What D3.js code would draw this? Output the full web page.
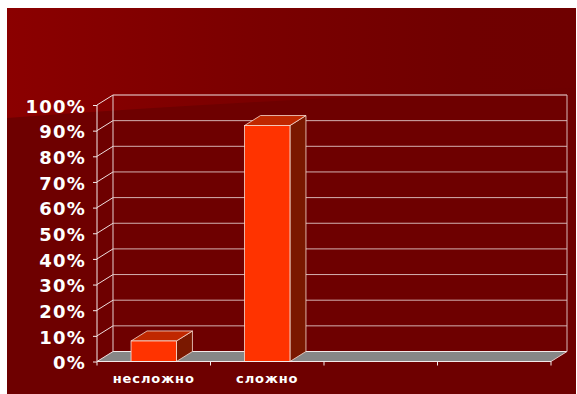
<!DOCTYPE html>
<html>
<head>
<meta charset="utf-8">
<script src="https://cdn.jsdelivr.net/npm/d3@7"></script>
<style>
  html, body { margin: 0; padding: 0; background: #ffffff; }
  svg { display: block; }
</style>
</head>
<body>
<svg id="chart" width="577" height="394"></svg>
<script>
// Survey answers (share of respondents)
const categories = ["несложно", "сложно", "", ""];
const values = [0.08, 0.92, null, null];
const yTicks = [0, 0.1, 0.2, 0.3, 0.4, 0.5, 0.6, 0.7, 0.8, 0.9, 1.0];

const svg = d3.select("#chart");
const W = 577, H = 394;

// 3D depth offset of the plot box
const dx = 16, dy = -10;

const x = d3.scaleBand()
  .domain(d3.range(categories.length))
  .range([97, 551])
  .paddingInner(0.6)
  .paddingOuter(0.3);

const y = d3.scaleLinear().domain([0, 1]).range([361.5, 105]);

// ---- background ----
const defs = svg.append("defs");
const grad = defs.append("linearGradient").attr("id", "bg")
  .attr("x1", "0").attr("y1", "0").attr("x2", "1").attr("y2", "0");
grad.append("stop").attr("offset", "0").attr("stop-color", "#8b0000");
grad.append("stop").attr("offset", "0.45").attr("stop-color", "#7a0000");
grad.append("stop").attr("offset", "0.8").attr("stop-color", "#700000");
grad.append("stop").attr("offset", "1").attr("stop-color", "#6f0000");

svg.append("rect").attr("x", 7).attr("y", 8).attr("width", W - 8).attr("height", H - 8)
  .attr("fill", "url(#bg)");
svg.append("path")
  .attr("d", "M7,118 Q280,98 576,88 L576,394 L7,394 Z")
  .attr("fill", "#6e0000");

const gridInner = "#d4b0b0";
const gridTop = "#f2e2e2";
const x0 = x.range()[0], x1 = x.range()[1];

// ---- floor ----
svg.append("path")
  .attr("d", `M${x0},${y(0)} L${x1},${y(0)} L${x1 + dx},${y(0) + dy} L${x0 + dx},${y(0) + dy} Z`)
  .attr("fill", "#878787");

// ---- back wall gridlines and side wall diagonals ----
const grid = svg.append("g");
yTicks.forEach(t => {
  const yb = y(t) + dy;
  grid.append("line")
    .attr("x1", x0 + dx).attr("x2", x1 + dx)
    .attr("y1", yb).attr("y2", yb)
    .attr("stroke", t === 1 ? gridTop : (t === 0 ? "#f4eaea" : gridInner))
    .attr("stroke-width", 1);
  grid.append("line")
    .attr("x1", x0).attr("y1", y(t))
    .attr("x2", x0 + dx).attr("y2", yb)
    .attr("stroke", "#eedede").attr("stroke-width", 1);
});
// back wall verticals
grid.append("line").attr("x1", x0 + dx).attr("x2", x0 + dx)
  .attr("y1", y(1) + dy).attr("y2", y(0) + dy).attr("stroke", "#e6d0d0");
grid.append("line").attr("x1", x1 + dx).attr("x2", x1 + dx)
  .attr("y1", y(1) + dy).attr("y2", y(0) + dy).attr("stroke", "#d8b8b8");
// floor right edge
grid.append("line").attr("x1", x1).attr("y1", y(0))
  .attr("x2", x1 + dx).attr("y2", y(0) + dy).attr("stroke", "#e8c8c8");

// ---- bars ----
const edge = "#f6dcd2";
const bars = svg.append("g");
categories.forEach((c, i) => {
  const v = values[i];
  if (v == null) return;
  const bx0 = x(i), bx1 = x(i) + x.bandwidth();
  const yt = y(v), yb = y(0);
  // side face
  bars.append("path")
    .attr("d", `M${bx1},${yt} L${bx1 + dx},${yt + dy} L${bx1 + dx},${yb + dy} L${bx1},${yb} Z`)
    .attr("fill", "#7a1800").attr("stroke", edge).attr("stroke-width", 0.8)
    .attr("stroke-linejoin", "round");
  // top face
  bars.append("path")
    .attr("d", `M${bx0},${yt} L${bx1},${yt} L${bx1 + dx},${yt + dy} L${bx0 + dx},${yt + dy} Z`)
    .attr("fill", "#c02800").attr("stroke", edge).attr("stroke-width", 0.8)
    .attr("stroke-linejoin", "round");
  // front face
  bars.append("rect")
    .attr("x", bx0).attr("y", yt)
    .attr("width", bx1 - bx0).attr("height", yb - yt)
    .attr("fill", "#ff3300").attr("stroke", edge).attr("stroke-width", 0.8);
});

// ---- front floor edge and category ticks ----
svg.append("line").attr("x1", x0).attr("x2", x1)
  .attr("y1", y(0)).attr("y2", y(0)).attr("stroke", "#f4eaea");
d3.range(categories.length + 1).forEach(k => {
  const tx = x0 + k * (x1 - x0) / categories.length;
  svg.append("line").attr("x1", tx).attr("x2", tx)
    .attr("y1", y(0)).attr("y2", y(0) + 4).attr("stroke", "#f4eaea");
});

// ---- y axis ----
const yAxis = d3.axisLeft(y)
  .tickValues(yTicks)
  .tickFormat(d3.format(".0%"))
  .tickSize(4)
  .tickPadding(7);
const ya = svg.append("g").attr("transform", `translate(${x0},0)`).call(yAxis);
ya.select(".domain").attr("stroke", "#f4eaea").attr("d", `M0,${y(1)}V${y(0)}`);
ya.selectAll(".tick line").attr("stroke", "#f4eaea");
ya.selectAll(".tick text")
  .attr("fill", "#ffffff")
  .attr("dy", "0.4em")
  .style("font-family", "'DejaVu Sans', Verdana, sans-serif")
  .style("font-weight", "bold")
  .style("font-size", "18px")
  .style("letter-spacing", "1.2px");

// ---- category labels ----
svg.append("g").selectAll("text")
  .data(categories.map((c, i) => ({ c, i })).filter(d => d.c))
  .join("text")
  .attr("x", d => x(d.i) + x.bandwidth() / 2)
  .attr("y", 383)
  .attr("text-anchor", "middle")
  .attr("fill", "#ffffff")
  .style("font-family", "'DejaVu Sans', Verdana, sans-serif")
  .style("font-weight", "bold")
  .style("font-size", "13px")
  .style("letter-spacing", "0.9px")
  .text(d => d.c);
</script>
</body>
</html>
